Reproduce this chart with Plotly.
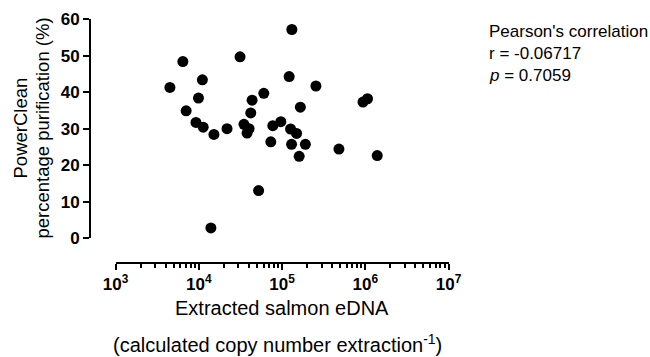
import plotly.graph_objects as go

# Data
copy_number = [4505, 6441, 7056, 9258, 9922, 11058, 11304, 13993, 15205, 21860,
               31340, 34920, 38060, 40230, 42160, 43710, 52330, 60440, 73380, 77600,
               96830, 121900, 126700, 131360, 130270, 149600, 160800, 166200, 190900, 255500,
               483200, 939700, 1064600, 1393000]
purification = [41.3, 48.4, 34.9, 31.7, 38.4, 43.4, 30.4, 2.75, 28.4, 30.0,
                49.7, 31.2, 28.8, 30.0, 34.3, 37.8, 13.0, 39.7, 26.4, 30.8,
                31.9, 44.3, 29.9, 57.2, 25.7, 28.7, 22.4, 35.9, 25.7, 41.7,
                24.4, 37.3, 38.2, 22.6]

x_tick_vals = [1e3, 1e4, 1e5, 1e6, 1e7]
x_tick_text = ["10<sup>3</sup>", "10<sup>4</sup>", "10<sup>5</sup>", "10<sup>6</sup>", "10<sup>7</sup>"]
y_tick_vals = [0, 10, 20, 30, 40, 50, 60]

W, H = 650, 357
def px(x):
    return x / W
def py(y):
    return 1 - y / H

minor_vals = [m * 10 ** k for k in range(3, 7) for m in range(2, 10)]

FONT = "Liberation Sans, Arial, sans-serif"

fig = go.Figure()
fig.add_trace(go.Scatter(
    x=copy_number, y=purification, mode="markers",
    marker=dict(color="black", size=11, line=dict(width=0)),
    cliponaxis=False, showlegend=False, hoverinfo="x+y",
))

fig.update_layout(
    width=W, height=H,
    margin=dict(l=0, r=0, t=0, b=0, pad=0, autoexpand=False),
    paper_bgcolor="white", plot_bgcolor="white",
    font=dict(family=FONT, color="black"),
    xaxis=dict(
        type="log", range=[3, 7],
        domain=[px(115.5), px(448.5)],
        anchor="free", position=py(263),
        showline=True, linecolor="black", linewidth=2,
        showgrid=False, zeroline=False, automargin=False,
        ticks="outside", ticklen=6, tickwidth=2, tickcolor="black",
        tickmode="array", tickvals=x_tick_vals, ticktext=x_tick_text,
        tickfont=dict(family=FONT, size=17, color="black", weight="bold"),
        minor=dict(ticks="outside", ticklen=4, tickwidth=1.5, tickcolor="black",
                   tickmode="array", tickvals=minor_vals, showgrid=False),
    ),
    yaxis=dict(
        range=[0, 60],
        domain=[py(238), py(19.3)],
        anchor="free", position=px(90),
        showline=True, linecolor="black", linewidth=2,
        showgrid=False, zeroline=False, automargin=False,
        ticks="outside", ticklen=6, tickwidth=2, tickcolor="black",
        tickmode="array", tickvals=y_tick_vals,
        tickfont=dict(family=FONT, size=17, color="black", weight="bold"),
    ),
)

ann = [
    dict(text="Extracted salmon eDNA", x=px(282), y=py(308), size=20),
    dict(text="(calculated copy number extraction<sup>-1</sup>)", x=px(277), y=py(343), size=20),
]
for a in ann:
    fig.add_annotation(text=a["text"], x=a["x"], y=a["y"], xref="paper", yref="paper",
                       xanchor="center", yanchor="middle", showarrow=False,
                       font=dict(family=FONT, size=a["size"], color="black"))

for txt, xx in [("PowerClean", 20), ("percentage purification (%)", 42)]:
    fig.add_annotation(text=txt, x=px(xx), y=py(128.5), xref="paper", yref="paper",
                       xanchor="center", yanchor="middle", showarrow=False, textangle=-90,
                       font=dict(family=FONT, size=18.5, color="black"))

for txt, yy in [("Pearson's correlation", 31), ("r = -0.06717", 53), ("<i>p</i> = 0.7059", 75)]:
    fig.add_annotation(text=txt, x=px(487), y=py(yy), xref="paper", yref="paper",
                       xanchor="left", yanchor="middle", showarrow=False,
                       font=dict(family=FONT, size=17, color="black"))

fig.write_html("out.html", config={"displayModeBar": False},
               post_script="document.body.style.margin='0';document.body.style.overflow='hidden';")
